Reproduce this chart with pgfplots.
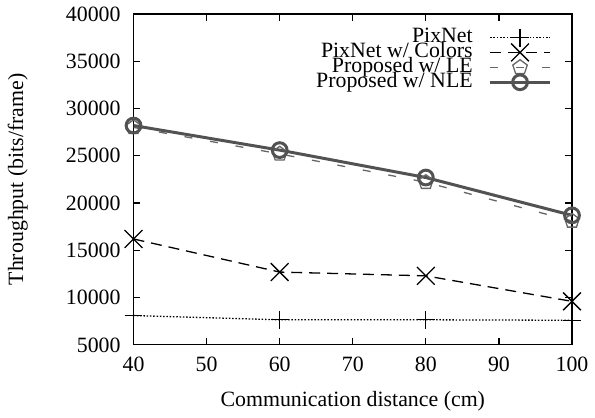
\documentclass[border=0pt]{standalone}
\usepackage{fontspec}
\setmainfont{Liberation Serif}
\usepackage{pgfplots}
\pgfplotsset{compat=1.18}

\begin{document}
\begin{tikzpicture}[font=\fontsize{11}{13}\selectfont]
\begin{axis}[
    scale only axis,
    width=220bp, height=166bp,
    xmin=40, xmax=100, ymin=5000, ymax=40000,
    xtick={40,50,...,100},
    ytick={5000,10000,...,40000},
    /pgf/number format/assume math mode=true,
    /pgf/number format/1000 sep={},
    scaled y ticks=false,
    major tick length=3.5bp,
    axis line style={line width=0.65bp},
    every tick/.style={line width=0.6bp, black},
    xticklabel style={yshift=-2.5bp},
    yticklabel style={xshift=-3bp},
    xlabel={Communication distance (cm)},
    ylabel={Throughput (bits/frame)},
    xlabel style={at={(axis description cs:0.5,-0.169)}, anchor=center},
    ylabel style={at={(axis description cs:-0.264,0.5)}, anchor=center, rotate=0},
    legend style={draw=none, fill=none, at={(0.954,0.967)}, anchor=north east,
        inner sep=0pt, row sep=-4.8bp, column sep=6bp,
        cells={anchor=east, inner sep=0pt, text height=6.8bp, text depth=1.8bp}},
    legend plot pos=right,
    legend image code/.code={
        \draw[mark repeat=2, mark phase=2, #1] plot coordinates {(0bp,0bp) (15bp,0bp) (30bp,0bp)};
    },
]
% PixNet
\addplot[black, line width=0.65bp, dash pattern=on 0.75bp off 0.9bp, mark=+,
    mark size=4.5bp, mark options={solid, line width=0.65bp}]
    coordinates {(40,8100) (60,7650) (80,7650) (100,7600)};
% PixNet w/ Colors
\addplot[black, line width=0.65bp, dash pattern=on 5.5bp off 3.5bp, mark=x,
    mark size=6.3bp, mark options={solid, line width=0.65bp}]
    coordinates {(40,16200) (60,12700) (80,12300) (100,9600)};
% Proposed w/ LE
\addplot[black!60, line width=0.65bp, dash pattern=on 4bp off 9bp, mark=pentagon,
    mark size=3.8bp, mark options={solid, line width=0.65bp}]
    coordinates {(40,28000) (60,25200) (80,22200) (100,18100)};
% Proposed w/ NLE
\addplot[black!68, line width=1.5bp, mark=o,
    mark size=3.7bp, mark options={solid, line width=1.5bp}]
    coordinates {(40,28200) (60,25600) (80,22700) (100,18700)};
\legend{PixNet, PixNet w/ Colors, Proposed w/ LE, Proposed w/ NLE}
\coordinate (bl) at (axis description cs:-0.3045,-0.2078);
\coordinate (tr) at (axis description cs:1.0477,1.0422);
\end{axis}
\path (bl) rectangle (tr);
\end{tikzpicture}
\end{document}
